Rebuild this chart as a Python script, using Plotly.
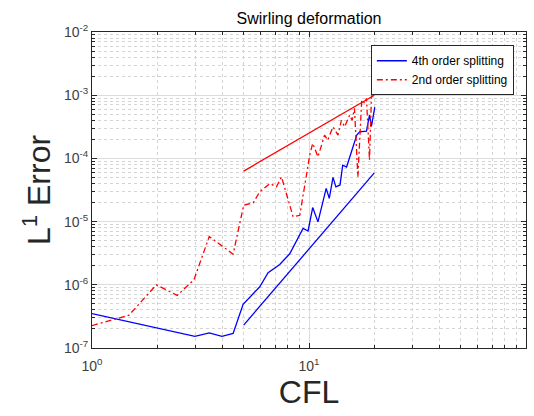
import plotly.graph_objects as go

# ---- data ----
cfl_4th = [1.0, 2.98, 3.47, 3.97, 4.47, 4.97, 5.93, 6.48, 7.33, 8.15, 9.39, 9.9, 10.4, 11.0,
           12.0, 12.4, 12.9, 13.3, 13.9, 14.3, 14.9, 15.7, 16.6, 17.1, 18.4, 19.0, 19.4, 20.1]
err_4th = [3.5e-7, 1.53e-7, 1.73e-7, 1.53e-7, 1.7e-7, 4.9e-7, 9.3e-7, 1.55e-6, 2.1e-6, 3.1e-6,
           7.8e-6, 7.1e-6, 1.67e-5, 9.9e-6, 3.35e-5, 2.33e-5, 5.0e-5, 3.55e-5, 3.8e-5, 7.8e-5,
           7.3e-5, 1.26e-4, 2.34e-4, 2.64e-4, 2.7e-4, 4.85e-4, 3.2e-4, 6.5e-4]

cfl_2nd = [1.0, 1.48, 1.98, 2.47, 2.95, 3.47, 4.47, 5.0, 5.53, 5.93, 6.6, 7.08, 7.47, 8.45,
           9.07, 10.08, 10.4, 11.0, 11.8, 12.2, 12.9, 13.6, 14.1, 14.6, 15.4, 15.8, 16.2, 16.8,
           17.5, 18.1, 18.4, 19.0, 19.4, 20.1]
err_2nd = [2.26e-7, 3.3e-7, 1.0e-6, 6.8e-7, 1.2e-6, 5.8e-6, 3.05e-6, 1.82e-5, 1.98e-5, 2.96e-5,
           4.0e-5, 3.55e-5, 5.1e-5, 1.19e-5, 1.26e-5, 1.13e-4, 1.73e-4, 1.06e-4, 2.34e-4, 1.95e-4,
           3.16e-4, 2.34e-4, 4.0e-4, 3.16e-4, 4.85e-4, 4.0e-4, 6.2e-4, 5.1e-5, 8.4e-4, 7.4e-4,
           8.9e-4, 9.4e-5, 9.4e-4, 1.3e-3]

ref_cfl = [5, 20]
ref4_err = [2.3e-7, 5.9e-5]
ref2_err = [6.3e-5, 1.0e-3]

series_names = ["4th order splitting", "2nd order splitting"]

x_exponents = [0, 1, 2]
y_exponents = [-7, -6, -5, -4, -3, -2]
x_tickvals = [10.0 ** e for e in x_exponents]
x_ticktext = ["10<sup>%d</sup>" % e for e in x_exponents]
y_tickvals = [10.0 ** e for e in y_exponents]
y_ticktext = ["10<sup>%d</sup>" % e for e in y_exponents]

x_minor = [m * 10.0 ** e for e in range(0, 2) for m in range(2, 10)]
y_minor = [m * 10.0 ** e for e in range(-7, -2) for m in range(2, 10)]

BLUE = "#0000ff"
RED = "#ff0000"
AX = "#262626"
FONT = "Liberation Sans, Arial, sans-serif"

fig = go.Figure()
fig.add_trace(go.Scatter(x=cfl_4th, y=err_4th, mode="lines", name=series_names[0],
                         line=dict(color=BLUE, width=1.3)))
fig.add_trace(go.Scatter(x=cfl_2nd, y=err_2nd, mode="lines", name=series_names[1],
                         line=dict(color=RED, width=1.3, dash="6px,3px,2px,3px")))
fig.add_trace(go.Scatter(x=ref_cfl, y=ref4_err, mode="lines", showlegend=False,
                         line=dict(color=BLUE, width=1.3)))
fig.add_trace(go.Scatter(x=ref_cfl, y=ref2_err, mode="lines", showlegend=False,
                         line=dict(color=RED, width=1.3)))

axis_common = dict(
    type="log",
    showline=True, linecolor=AX, linewidth=1, mirror="ticks",
    ticks="inside", ticklen=5, tickcolor=AX,
    showgrid=True, gridcolor="#dcdcdc", gridwidth=1,
    tickfont=dict(family=FONT, size=14, color="#404040"),
    zeroline=False,
)

fig.update_xaxes(
    range=[0, 2],
    tickmode="array", tickvals=x_tickvals, ticktext=x_ticktext,
    title=dict(text="CFL", font=dict(family=FONT, size=32, color=AX), standoff=4),
    ticklabelstandoff=5,
    minor=dict(tickmode="array", tickvals=x_minor, showgrid=True, gridcolor="#d4d4d4", griddash="dot",
               ticks="inside", ticklen=3, tickcolor=AX),
    **axis_common,
)
fig.update_yaxes(
    range=[-7, -2],
    tickmode="array", tickvals=y_tickvals, ticktext=y_ticktext,
    title=dict(text="L<sup>1</sup> Error", font=dict(family=FONT, size=32, color=AX), standoff=3),
    minor=dict(tickmode="array", tickvals=y_minor, showgrid=True, gridcolor="#d4d4d4", griddash="dot",
               ticks="inside", ticklen=3, tickcolor=AX),
    **axis_common,
)

fig.update_layout(
    width=534, height=416,
    margin=dict(l=92, r=8, t=32, b=68),
    paper_bgcolor="white", plot_bgcolor="white",
    title=dict(text="Swirling deformation", x=0.5787, xanchor="center", y=0.955, yanchor="middle",
               font=dict(family=FONT, size=16, color="#000000")),
    legend=dict(x=0.972, xanchor="right", y=0.958, yanchor="top",
                bgcolor="white", bordercolor=AX, borderwidth=1,
                font=dict(family=FONT, size=12, color="#000000"),
                tracegroupgap=0, itemwidth=30),
    showlegend=True,
)

fig.write_html("out.html")
